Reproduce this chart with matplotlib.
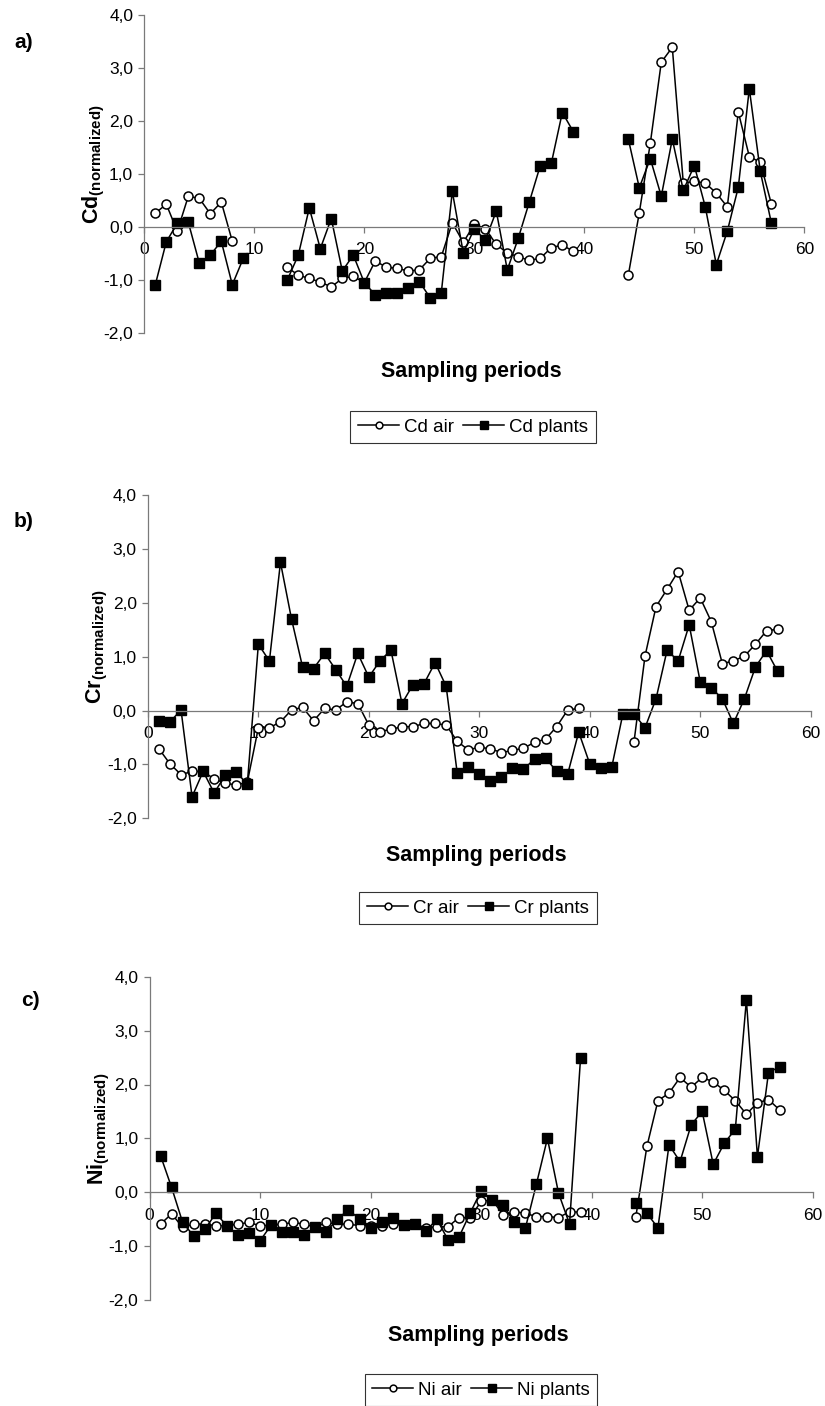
import matplotlib.pyplot as plt
import numpy as np
from matplotlib.ticker import FuncFormatter

nan = np.nan
periods = np.arange(1, 58)

cd_air = [0.26, 0.43, -0.08, 0.58, 0.54, 0.25, 0.47, -0.27, nan, nan,
          nan, nan, -0.76, -0.91, -0.97, -1.04, -1.13, -0.97, -0.93, -1.05,
          -0.64, -0.76, -0.78, -0.83, -0.81, -0.59, -0.56, 0.08, -0.29, 0.05,
          -0.03, -0.33, -0.49, -0.56, -0.63, -0.59, -0.39, -0.34, -0.46, nan,
          nan, nan, nan, -0.91, 0.27, 1.58, 3.11, 3.39, 0.83, 0.86,
          0.83, 0.64, 0.38, 2.17, 1.33, 1.22, 0.44]
cd_plants = [-1.09, -0.28, 0.07, 0.09, -0.68, -0.53, -0.27, -1.09, -0.59, nan,
             nan, nan, -1.00, -0.53, 0.36, -0.41, 0.16, -0.83, -0.53, -1.05,
             -1.28, -1.25, -1.25, -1.16, -1.03, -1.34, -1.24, 0.67, -0.49, -0.03,
             -0.25, 0.30, -0.81, -0.21, 0.47, 1.16, 1.20, 2.16, 1.80, nan,
             nan, nan, nan, 1.66, 0.74, 1.29, 0.58, 1.66, 0.69, 1.16,
             0.38, -0.71, -0.08, 0.75, 2.61, 1.05, 0.08]

cr_air = [-0.71, -0.99, -1.19, -1.13, -1.13, -1.27, -1.35, -1.38, -1.33, -0.32,
          -0.32, -0.21, 0.01, 0.06, -0.19, 0.04, 0.01, 0.16, 0.13, -0.27,
          -0.39, -0.35, -0.30, -0.30, -0.24, -0.24, -0.27, -0.57, -0.73, -0.68,
          -0.71, -0.78, -0.74, -0.70, -0.59, -0.53, -0.30, 0.01, 0.04, nan,
          nan, nan, nan, -0.59, 1.01, 1.93, 2.25, 2.58, 1.86, 2.09,
          1.65, 0.87, 0.92, 1.01, 1.23, 1.48, 1.51]
cr_plants = [-0.19, -0.21, 0.01, -1.60, -1.13, -1.53, -1.20, -1.15, -1.36, 1.23,
             0.92, 2.75, 1.70, 0.81, 0.78, 1.06, 0.76, 0.45, 1.06, 0.62,
             0.92, 1.12, 0.13, 0.48, 0.50, 0.89, 0.45, -1.16, -1.04, -1.18,
             -1.30, -1.24, -1.07, -1.09, -0.90, -0.88, -1.13, -1.18, -0.40, -0.99,
             -1.07, -1.04, -0.06, -0.06, -0.32, 0.22, 1.12, 0.92, 1.59, 0.53,
             0.42, 0.22, -0.24, 0.22, 0.81, 1.11, 0.73]

ni_air = [-0.59, -0.40, -0.65, -0.59, -0.59, -0.62, -0.62, -0.59, -0.56, -0.62,
          -0.61, -0.59, -0.56, -0.59, -0.65, -0.56, -0.59, -0.59, -0.62, -0.62,
          -0.62, -0.59, -0.61, -0.59, -0.66, -0.64, -0.64, -0.47, -0.47, -0.17,
          -0.14, -0.42, -0.36, -0.39, -0.45, -0.45, -0.47, -0.36, -0.37, nan,
          nan, nan, nan, -0.45, 0.85, 1.70, 1.84, 2.13, 1.95, 2.13,
          2.05, 1.89, 1.70, 1.45, 1.66, 1.72, 1.53]
ni_plants = [0.68, 0.09, -0.56, -0.81, -0.69, -0.39, -0.62, -0.79, -0.75, -0.90,
             -0.61, -0.73, -0.73, -0.79, -0.65, -0.73, -0.50, -0.32, -0.50, -0.67,
             -0.56, -0.48, -0.61, -0.59, -0.72, -0.50, -0.88, -0.83, -0.39, 0.03,
             -0.15, -0.23, -0.56, -0.67, 0.15, 1.00, -0.01, -0.59, 2.50, nan,
             nan, nan, nan, -0.20, -0.39, -0.66, 0.88, 0.57, 1.25, 1.50,
             0.52, 0.91, 1.17, 3.57, 0.66, 2.22, 2.33]

plt.rcParams['font.family'] = ['Liberation Sans', 'DejaVu Sans']
plt.rcParams['mathtext.fontset'] = 'custom'
plt.rcParams['mathtext.rm'] = 'Liberation Sans'
plt.rcParams['mathtext.bf'] = 'Liberation Sans:bold'

W, H = 825, 1406
GREY = '#7a7a7a'


def fx(x):
    return x / W


def fy(y):
    return 1 - y / H


def comma(v, pos):
    return f'{v:.1f}'.replace('.', ',')


def draw_panel(fig, metal, tag, air, plants, box, tag_xy, ylab_x, xlab_y, leg_xy):
    left, right, top, bottom = box
    ax = fig.add_axes([fx(left), fy(bottom), (right - left) / W, (bottom - top) / H])
    ax.set_xlim(0, 60)
    ax.set_ylim(-2, 4)

    ax.plot(periods, air, '-o', color='black', lw=1.1, ms=6.5, mfc='white', mec='black',
            mew=1.1, label=f'{metal} air')
    ax.plot(periods, plants, '-s', color='black', lw=1.1, ms=7, mfc='black', mec='black',
            label=f'{metal} plants')

    for s in ['top', 'right']:
        ax.spines[s].set_visible(False)
    ax.spines['bottom'].set_position(('data', 0))
    ax.spines['bottom'].set_color(GREY)
    ax.spines['left'].set_color(GREY)
    ax.spines['bottom'].set_linewidth(0.9)
    ax.spines['left'].set_linewidth(0.9)

    ax.set_xticks(np.arange(0, 61, 10))
    ax.set_yticks(np.arange(-2, 4.1, 1))
    ax.yaxis.set_major_formatter(FuncFormatter(comma))
    ax.tick_params(axis='both', colors=GREY, labelcolor='black', labelsize=12.5, length=4, width=0.9)
    ax.tick_params(axis='x', pad=7)
    ax.tick_params(axis='y', pad=4)

    fig.text(fx(tag_xy[0]), fy(tag_xy[1]), tag, fontsize=15, fontweight='bold', ha='center', va='center')
    fig.text(fx(ylab_x), fy((top + bottom) / 2 - 10), r'$\mathbf{' + metal + r'}_{\mathbf{(normalized)}}$',
             fontsize=15.5, rotation=90, ha='center', va='center')
    fig.text(fx((left + right) / 2 - 3), fy(xlab_y), 'Sampling periods', fontsize=15.5,
             fontweight='bold', ha='center', va='center')

    leg = ax.legend(loc='center', bbox_to_anchor=(fx(leg_xy[0]), fy(leg_xy[1])),
                    bbox_transform=fig.transFigure, ncol=2, fontsize=13.5, frameon=True,
                    fancybox=False, edgecolor='black', handlelength=2.2, handletextpad=0.25,
                    columnspacing=0.5, borderpad=0.4, markerscale=0.75)
    leg.get_frame().set_linewidth(0.8)
    return ax


fig = plt.figure(figsize=(W / 100, H / 100), dpi=100)

draw_panel(fig, 'Cd', 'a)', cd_air, cd_plants, (144.3, 804.3, 15, 333),
           (24, 42), 94, 371, (473, 427))
draw_panel(fig, 'Cr', 'b)', cr_air, cr_plants, (147.9, 810.7, 495, 818.3),
           (24, 522), 97, 855, (478, 908))
draw_panel(fig, 'Ni', 'c)', ni_air, ni_plants, (149.5, 812.7, 976.7, 1300.1),
           (30, 1000), 99, 1335, (481, 1390))

fig.savefig('out.png', dpi=100)
